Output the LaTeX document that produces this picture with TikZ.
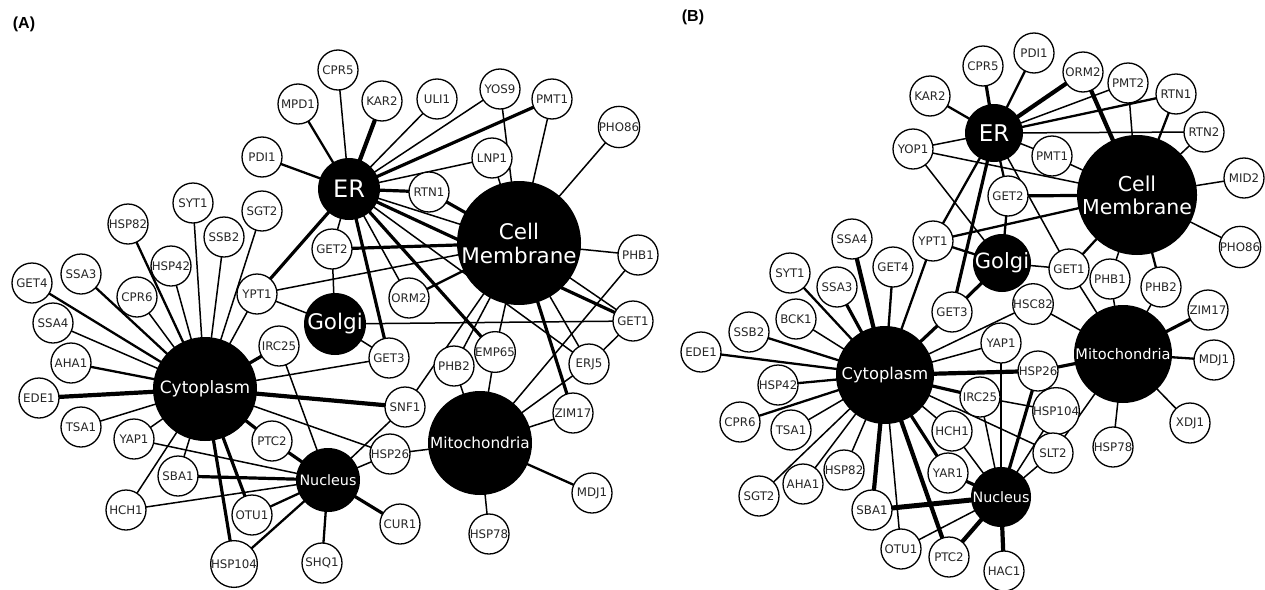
\documentclass[tikz,border=0pt]{standalone}
\usepackage{fontspec}
\setmainfont{DejaVu Sans}
\newfontfamily\labfont{Liberation Sans}
\pgfdeclarelayer{bg}
\pgfsetlayers{bg,main}
\tikzset{
 sn/.style={circle, draw=black, line width=1.3pt, fill=white, minimum size=40pt, inner sep=0pt, text=black!85, font=\fontsize{11.8}{12}\selectfont},
 bn/.style={circle, fill=black, text=white, inner sep=0pt, align=center},
 e1/.style={line width=1.5pt},
 e2/.style={line width=2.3pt},
 e3/.style={line width=3.2pt},
 e4/.style={line width=4.2pt},
 plab/.style={font=\labfont\bfseries\fontsize{16}{16}\selectfont}
}
\begin{document}
\begin{tikzpicture}[x=1pt,y=-1pt]
\useasboundingbox (0,0) rectangle (1265,589);
\node[plab] (labA) at (24,24) {(A)};
\node[plab] (labB) at (693,17) {(B)};
% ---------- Panel A ----------
\node[bn, minimum size=62pt, font=\fontsize{24}{24}\selectfont] (aER) at (349,189) {ER};
\node[bn, minimum size=124pt, font=\fontsize{21.5}{24}\selectfont] (aCM) at (519,243) {Cell\\Membrane};
\node[bn, minimum size=62pt, font=\fontsize{21.5}{21.5}\selectfont] (aGolgi) at (335,324) {Golgi};
\node[bn, minimum size=104pt, font=\fontsize{17}{17}\selectfont] (aCyto) at (205,389) {Cytoplasm};
\node[bn, minimum size=104pt, font=\fontsize{15.3}{15.3}\selectfont] (aMito) at (480,443) {Mitochondria};
\node[bn, minimum size=64pt, font=\fontsize{14.3}{14.3}\selectfont] (aNuc) at (328,480) {Nucleus};
\foreach \n/\x/\y in {MPD1/298/104, PDI1/262/157, SYT1/193/203, SGT2/262/211, HSP82/128/224, SSB2/224/237, HSP42/171/266, GET4/32/283, SSA3/81/274, CPR6/137/297, YPT1/257/294, CPR5/338/70, KAR2/382/101, ULI1/437/99, YOS9/500/89, PMT1/552/99, PHO86/619/127, LNP1/492/158, RTN1/429/192, GET2/332/249, ORM2/409/298, PHB1/638/255, GET1/633/321, EMP65/495/352, PHB2/454/366, ERJ5/589/364, ZIM17/573/413, MDJ1/592/493, HSP78/489/534, CUR1/400/524, SHQ1/322/563, HSP26/390/454, SNF1/405/407, GET3/389/358, SSA4/53/323, AHA1/71/363, EDE1/39/398, TSA1/81/427, YAP1/134/439, IRC25/279/346, PTC2/272/441, SBA1/178/476, HCH1/126/510, OTU1/252/515, HSP104/234/564}
  \node[sn] (a\n) at (\x,\y) {\n};
% ---------- Panel B ----------
\node[bn, minimum size=58pt, font=\fontsize{23}{23}\selectfont] (bER) at (994,133) {ER};
\node[bn, minimum size=120pt, font=\fontsize{20.5}{23}\selectfont] (bCM) at (1137,195) {Cell\\Membrane};
\node[bn, minimum size=58pt, font=\fontsize{21}{21}\selectfont] (bGolgi) at (1002,263) {Golgi};
\node[bn, minimum size=98pt, font=\fontsize{16.3}{16.3}\selectfont] (bCyto) at (885,375) {Cytoplasm};
\node[bn, minimum size=98pt, font=\fontsize{14.6}{14.6}\selectfont] (bMito) at (1123,354) {Mitochondria};
\node[bn, minimum size=60pt, font=\fontsize{14.3}{14.3}\selectfont] (bNuc) at (1001,497) {Nucleus};
\foreach \n/\x/\y in {KAR2/930/96, YOP1/913/149, YPT1/933/241, SSA4/852/239, GET4/893/267, SYT1/790/273, SSA3/837/287, CPR5/983/66, PDI1/1034/53, ORM2/1083/72, PMT2/1128/83, RTN1/1176/94, RTN2/1204/132, PMT1/1052/156, MID2/1244/178, PHO86/1240/247, GET2/1008/196, GET1/1069/269, PHB1/1110/279, PHB2/1161/287, BCK1/796/319, SSB2/749/332, EDE1/701/352, HSP42/778/385, CPR6/740/422, TSA1/791/430, HSP82/844/470, AHA1/803/484, SGT2/759/496, SBA1/872/510, OTU1/901/549, PTC2/949/557, HSC82/1033/304, ZIM17/1208/310, MDJ1/1214/360, YAP1/1001/343, HSP26/1038/371, IRC25/980/397, HSP104/1056/411, XDJ1/1190/423, HSP78/1113/447, SLT2/1053/453, HCH1/952/431, YAR1/948/473, HAC1/1004/571, GET3/952/312}
  \node[sn] (b\n) at (\x,\y) {\n};
% ---------- Edges ----------
\begin{pgfonlayer}{bg}
% Panel A
\foreach \a/\b in {aER/aCPR5, aER/aULI1, aER/aYOS9, aER/aLNP1, aER/aGET2, aER/aORM2, aER/aCM, aER/aERJ5,
  aCM/aPMT1, aCM/aYOS9, aCM/aLNP1, aCM/aPHO86, aCM/aPHB1, aCM/aGET1, aCM/aERJ5, aCM/aEMP65, aCM/aPHB2, aCM/aSNF1, aCM/aYPT1,
  aGolgi/aGET2, aGolgi/aYPT1, aGolgi/aGET3, aGolgi/aGET1,
  aCyto/aTSA1, aCyto/aYAP1, aCyto/aHSP42, aCyto/aCPR6, aCyto/aSYT1, aCyto/aSSB2, aCyto/aSGT2, aCyto/aYPT1, aCyto/aSSA4, aCyto/aGET3, aCyto/aHSP26, aCyto/aSBA1, aCyto/aHCH1,
  aNuc/aYAP1, aNuc/aHCH1, aNuc/aIRC25, aNuc/aSNF1, aNuc/aHSP26,
  aMito/aHSP26, aMito/aPHB2, aMito/aEMP65, aMito/aERJ5, aMito/aZIM17, aMito/aHSP78, aMito/aPHB1, aGET1/aERJ5}
  \draw[e1] (\a.center) -- (\b.center);
\foreach \a/\b in {aER/aMPD1, aER/aPDI1, aCM/aORM2, aCyto/aGET4, aCyto/aAHA1, aCyto/aHSP82, aNuc/aOTU1, aNuc/aSHQ1, aNuc/aHSP104, aMito/aMDJ1, aCyto/aSSA3}
  \draw[e2] (\a.center) -- (\b.center);
\foreach \a/\b in {aER/aYPT1, aER/aPMT1, aER/aRTN1, aER/aGET3, aER/aEMP65, aER/aGET1, aCM/aRTN1, aCM/aGET2, aCM/aZIM17, aCyto/aIRC25, aCyto/aPTC2, aCyto/aOTU1, aCyto/aHSP104, aNuc/aSBA1, aNuc/aPTC2, aNuc/aCUR1}
  \draw[e3] (\a.center) -- (\b.center);
\foreach \a/\b in {aER/aKAR2, aCyto/aEDE1, aCyto/aSNF1}
  \draw[e4] (\a.center) -- (\b.center);
% Panel B
\foreach \a/\b in {bER/bPMT2, bER/bRTN2, bER/bPMT1, bER/bYOP1, bER/bGET1, bCM/bPMT2, bCM/bRTN2, bCM/bMID2, bCM/bPHO86, bCM/bPHB1, bCM/bPMT1, bCM/bYOP1,
  bGolgi/bYOP1, bGolgi/bGET1, bMito/bGET1, bMito/bHSC82, bCyto/bHSC82, bMito/bPHB1, bMito/bPHB2, bMito/bXDJ1, bMito/bHSP78, bMito/bSLT2, bNuc/bSLT2, bCyto/bSLT2,
  bNuc/bHSP104, bIRC25/bHSP104, bNuc/bIRC25, bCyto/bYAP1, bNuc/bYAP1, bCyto/bHCH1, bNuc/bHCH1, bCyto/bOTU1, bNuc/bOTU1, bCyto/bBCK1, bCyto/bTSA1, bCyto/bSGT2, bCyto/bAHA1, bCyto/bHSP82}
  \draw[e1] (\a.center) -- (\b.center);
\foreach \a/\b in {bER/bKAR2, bER/bPDI1, bER/bRTN1, bER/bGET2, bER/bYPT1, bCM/bRTN1, bCM/bPHB2, bCM/bGET1, bCM/bYPT1, bGolgi/bGET2, bGolgi/bYPT1, bMito/bMDJ1,
  bCyto/bYPT1, bCyto/bGET4, bCyto/bSYT1, bCyto/bSSB2, bCyto/bEDE1, bCyto/bHSP42, bCyto/bCPR6}
  \draw[e2] (\a.center) -- (\b.center);
\foreach \a/\b in {bER/bCPR5, bER/bGET3, bCM/bGET2, bGolgi/bGET3, bMito/bZIM17, bMito/bHSP26, bNuc/bHSP26, bCyto/bIRC25, bCyto/bYAR1, bNuc/bYAR1, bCyto/bGET3, bCyto/bSSA3}
  \draw[e3] (\a.center) -- (\b.center);
\foreach \a/\b in {bER/bORM2, bCM/bORM2, bCyto/bHSP26, bCyto/bSSA4, bCyto/bSBA1, bCyto/bPTC2, bNuc/bPTC2, bNuc/bHAC1}
  \draw[e4] (\a.center) -- (\b.center);
\draw[line width=5pt] (bNuc.center) -- (bSBA1.center);
\end{pgfonlayer}
\end{tikzpicture}
\end{document}
